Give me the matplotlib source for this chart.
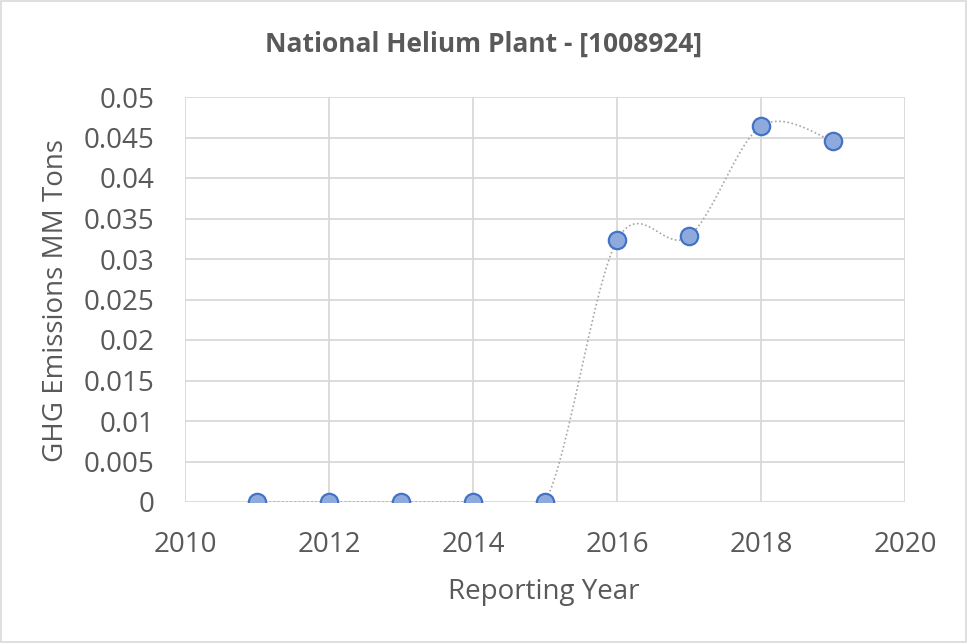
import numpy as np
import matplotlib
matplotlib.use("Agg")
import matplotlib.pyplot as plt
from matplotlib.patches import Rectangle

years = [2011, 2012, 2013, 2014, 2015, 2016, 2017, 2018, 2019]
emissions = [0, 0, 0, 0, 0, 0.0323, 0.0328, 0.0464, 0.0446]
x_ticks = [2010, 2012, 2014, 2016, 2018, 2020]
y_ticks = [0, 0.005, 0.01, 0.015, 0.02, 0.025, 0.03, 0.035, 0.04, 0.045, 0.05]
y_labels = ["0", "0.005", "0.01", "0.015", "0.02", "0.025", "0.03", "0.035", "0.04", "0.045", "0.05"]
title = "National Helium Plant - [1008924]"

plt.rcParams['font.family'] = ['Open Sans', 'DejaVu Sans']
txt = '#595959'

def smooth(xs, ys, n=30):
    xs = np.asarray(xs, float); ys = np.asarray(ys, float)
    px = np.concatenate([[xs[0]], xs, [xs[-1]]])
    py = np.concatenate([[ys[0]], ys, [ys[-1]]])
    ox, oy = [], []
    t = np.linspace(0, 1, n)
    for i in range(1, len(px) - 2):
        p0 = np.array([px[i], py[i]]); p3 = np.array([px[i+1], py[i+1]])
        p1 = p0 + (np.array([px[i+1], py[i+1]]) - np.array([px[i-1], py[i-1]])) / 6
        p2 = p3 - (np.array([px[i+2], py[i+2]]) - np.array([px[i], py[i]])) / 6
        b = ((1-t)**3)[:, None]*p0 + (3*(1-t)**2*t)[:, None]*p1 + (3*(1-t)*t**2)[:, None]*p2 + (t**3)[:, None]*p3
        ox.extend(b[:, 0]); oy.extend(b[:, 1])
    return ox, oy

fig = plt.figure(figsize=(9.68, 6.43), dpi=100)
ax = fig.add_axes([185/968, 1-502/643, 720/968, 405/643])
fig.patches.append(Rectangle((0.001, 0.001), 0.997, 0.997, transform=fig.transFigure,
                             fill=False, edgecolor='#d9d9d9', linewidth=1.2))

sx, sy = smooth(years, emissions)
ax.plot(sx, sy, color='#a6a6a6', linestyle=(0, (1, 1.5)), linewidth=1.2, zorder=2)
ax.plot(years, emissions, linestyle='none', marker='o', markersize=12.5,
        markerfacecolor='#8eaadc', markeredgecolor='#4472c4', markeredgewidth=1.6, zorder=3)

ax.set_xlim(2010, 2020)
ax.set_ylim(0, 0.05)
ax.set_xticks(x_ticks)
ax.set_yticks(y_ticks)
ax.set_yticklabels(y_labels)
ax.grid(True, color='#d9d9d9', linewidth=1.3)
ax.set_axisbelow(True)
for s in ax.spines.values():
    s.set_visible(False)
ax.tick_params(length=0, labelsize=20, colors=txt)
ax.tick_params(axis='x', pad=21)
ax.tick_params(axis='y', pad=22)
fig.text(544/968, 1-599/643, "Reporting Year", ha='center', va='baseline', fontsize=20, color=txt)
fig.text(56/968, 1-300/643, "GHG Emissions MM Tons", ha='center', va='center', rotation=90,
         fontsize=20, color=txt)
fig.text(484/968, 1-44/643, title, ha='center', va='center', fontsize=19, fontweight='bold', color=txt)

fig.savefig("out.png", dpi=100)
